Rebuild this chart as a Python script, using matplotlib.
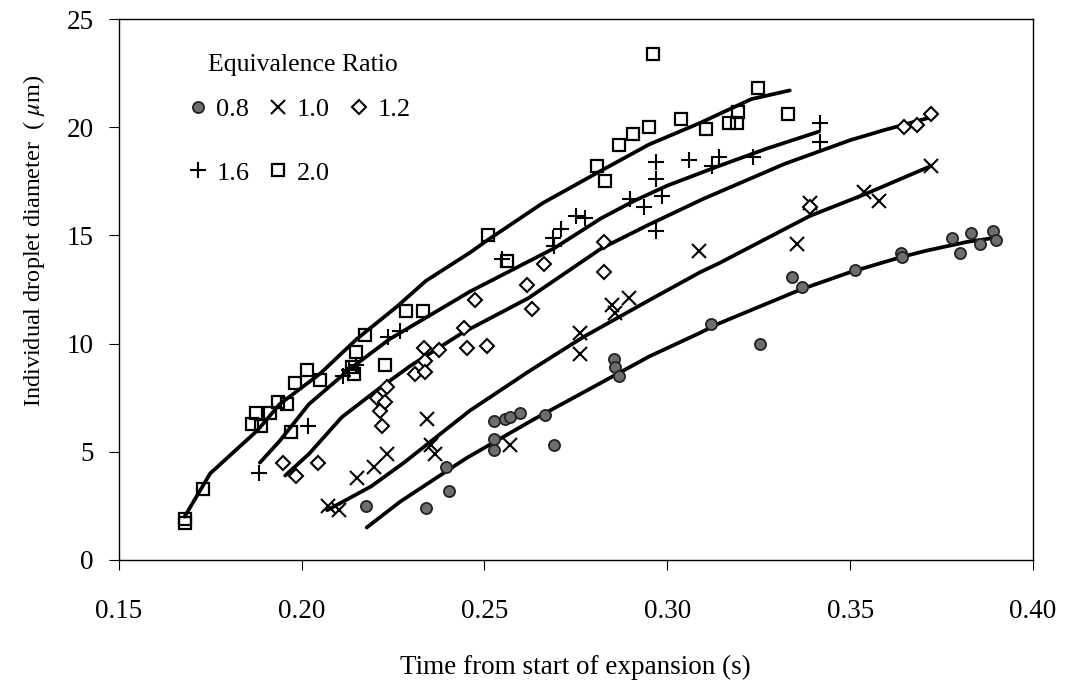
import numpy as np
import matplotlib
matplotlib.use("Agg")
import matplotlib.pyplot as plt

plt.rcParams['font.family'] = ['Liberation Serif', 'DejaVu Serif']
plt.rcParams['mathtext.fontset'] = 'stix'

# ratio 0.8 (filled circles)
t08 = [0.2176, 0.2341, 0.2395, 0.2402, 0.2525, 0.2525, 0.2525, 0.2555, 0.2570, 0.2598,
       0.2665, 0.2690, 0.2853, 0.2858, 0.2867, 0.3120, 0.3253, 0.3342, 0.3369, 0.3513,
       0.3640, 0.3642, 0.3778, 0.3801, 0.3830, 0.3855, 0.3890, 0.3900]
d08 = [2.5, 2.4, 4.3, 3.2, 5.1, 5.6, 6.4, 6.5, 6.6, 6.8,
       6.7, 5.3, 9.3, 8.9, 8.5, 10.9, 10.0, 13.1, 12.6, 13.4,
       14.2, 14.0, 14.9, 14.2, 15.1, 14.6, 15.2, 14.8]
# ratio 1.0 (crosses)
t10 = [0.2073, 0.2101, 0.2151, 0.2197, 0.2233, 0.2343, 0.2355, 0.2366, 0.2570, 0.2762,
       0.2762, 0.2849, 0.2858, 0.2895, 0.3086, 0.3355, 0.3390, 0.3538, 0.3579, 0.3721]
d10 = [2.5, 2.3, 3.8, 4.3, 4.9, 6.5, 5.3, 4.9, 5.3, 10.5,
       9.5, 11.8, 11.4, 12.1, 14.3, 14.6, 16.5, 17.0, 16.6, 18.2]
# ratio 1.2 (diamonds)
t12 = [0.1950, 0.1985, 0.2046, 0.2206, 0.2215, 0.2219, 0.2228, 0.2233, 0.2311, 0.2335,
       0.2338, 0.2338, 0.2377, 0.2443, 0.2452, 0.2475, 0.2507, 0.2616, 0.2630, 0.2662,
       0.2826, 0.2826, 0.3390, 0.3646, 0.3684, 0.3721]
d12 = [4.5, 3.9, 4.5, 7.5, 6.9, 6.2, 7.3, 8.0, 8.6, 9.8,
       9.2, 8.7, 9.7, 10.7, 9.8, 12.0, 9.9, 12.7, 11.6, 13.7,
       14.7, 13.3, 16.3, 20.0, 20.1, 20.6]
# ratio 1.6 (plus)
t16 = [0.1884, 0.2018, 0.2114, 0.2130, 0.2150, 0.2237, 0.2269, 0.2548, 0.2687, 0.2689,
       0.2708, 0.2749, 0.2776, 0.2899, 0.2936, 0.2968, 0.2968, 0.2986, 0.2970, 0.3059,
       0.3123, 0.3141, 0.3235, 0.3418, 0.3418]
d16 = [4.0, 6.2, 8.5, 8.8, 9.0, 10.3, 10.6, 13.9, 14.9, 14.5,
       15.3, 15.9, 15.8, 16.7, 16.3, 18.4, 17.6, 16.8, 15.2, 18.5,
       18.2, 18.6, 18.6, 20.2, 19.3]
# ratio 2.0 (open squares)
t20 = [0.1680, 0.1682, 0.1731, 0.1863, 0.1875, 0.1889, 0.1913, 0.1936, 0.1959, 0.1970,
       0.1982, 0.2014, 0.2049, 0.2137, 0.2143, 0.2149, 0.2174, 0.2228, 0.2286, 0.2333,
       0.2511, 0.2563, 0.2808, 0.2831, 0.2868, 0.2907, 0.2950, 0.2960, 0.3038, 0.3105,
       0.3169, 0.3190, 0.3193, 0.3248, 0.3331]
d20 = [1.7, 1.9, 3.3, 6.3, 6.8, 6.2, 6.8, 7.3, 7.2, 5.9,
       8.2, 8.8, 8.3, 8.9, 8.6, 9.6, 10.4, 9.0, 11.5, 11.5,
       15.0, 13.8, 18.2, 17.5, 19.2, 19.7, 20.0, 23.4, 20.4, 19.9,
       20.2, 20.2, 20.7, 21.8, 20.6]

# trend lines as drawn on the original figure
lt08 = [0.2178, 0.227, 0.245, 0.2635, 0.282, 0.295, 0.309, 0.3137, 0.3365, 0.350, 0.364, 0.371, 0.382, 0.390]
ld08 = [1.5, 2.7, 4.7, 6.5, 8.2, 9.4, 10.5, 10.9, 12.5, 13.3, 14.0, 14.3, 14.7, 14.9]
lt10 = [0.207, 0.219, 0.228, 0.237, 0.246, 0.262, 0.277, 0.295, 0.309, 0.314, 0.339, 0.354, 0.372]
ld10 = [2.3, 3.4, 4.5, 5.7, 6.9, 8.7, 10.3, 12.0, 13.3, 13.7, 15.9, 16.9, 18.2]
lt12 = [0.1955, 0.202, 0.211, 0.221, 0.230, 0.244, 0.262, 0.282, 0.295, 0.310, 0.332, 0.350, 0.360, 0.373]
ld12 = [3.9, 4.9, 6.6, 7.9, 9.0, 10.5, 12.1, 14.4, 15.5, 16.7, 18.3, 19.4, 19.9, 20.5]
lt16 = [0.1886, 0.194, 0.202, 0.213, 0.224, 0.237, 0.246, 0.269, 0.282, 0.291, 0.300, 0.314, 0.327, 0.3415]
ld16 = [4.5, 5.5, 7.2, 8.8, 10.2, 11.5, 12.4, 14.4, 15.8, 16.6, 17.3, 18.2, 19.0, 19.8]
lt20 = [0.168, 0.175, 0.188, 0.194, 0.205, 0.215, 0.226, 0.234, 0.246, 0.251, 0.266, 0.282, 0.295, 0.309, 0.323, 0.3335]
ld20 = [2.0, 4.0, 6.0, 7.2, 8.6, 10.2, 11.7, 12.9, 14.2, 14.8, 16.5, 18.0, 19.2, 20.2, 21.3, 21.7]

fig = plt.figure(figsize=(10.7, 6.86), dpi=100)
ax = fig.add_axes([0.111, 0.1837, 0.8544, 0.7886])

lw = 2.7
for lt, ld in [(lt08, ld08), (lt10, ld10), (lt12, ld12), (lt16, ld16), (lt20, ld20)]:
    ax.plot(lt, ld, color='black', lw=lw, solid_capstyle='round', zorder=2)

h08, = ax.plot(t08, d08, 'o', ms=8, mfc='#6e6e6e', mec='#222222', mew=1.3, ls='none', zorder=3)
h10, = ax.plot(t10, d10, 'x', ms=10, mec='black', mew=1.5, ls='none', zorder=3)
h12, = ax.plot(t12, d12, 'D', ms=7, mfc='white', mec='black', mew=1.5, ls='none', zorder=3)
h16, = ax.plot(t16, d16, '+', ms=12, mec='black', mew=1.5, ls='none', zorder=3)
h20, = ax.plot(t20, d20, 's', ms=9, mfc='none', mec='black', mew=1.6, ls='none', zorder=3)

ax.set_xlim(0.15, 0.40)
ax.set_ylim(0, 25)
ax.set_xticks([0.15, 0.20, 0.25, 0.30, 0.35, 0.40])
ax.set_xticklabels(['0.15', '0.20', '0.25', '0.30', '0.35', '0.40'])
ax.set_yticks([0, 5, 10, 15, 20, 25])
ax.tick_params(axis='x', direction='out', length=7, width=0.8, pad=21, labelsize=19.5)
ax.tick_params(axis='y', direction='out', length=7, width=0.8, pad=11, labelsize=19.5)
for s in ax.spines.values():
    s.set_linewidth(1.0)

ax.set_xlabel('Time from start of expansion (s)', fontsize=19.5, labelpad=22)
ax.set_ylabel(r'Individual droplet diameter  ( $\mu$m)', fontsize=17.5)
ax.yaxis.set_label_coords(-0.079, 0.59)

# legend laid out row by row: 0.8 1.0 1.2 / 1.6 2.0
ax.text(0.201, 0.915, 'Equivalence Ratio', transform=ax.transAxes,
        ha='center', va='center', fontsize=18.5)
handles = [h08, h16, h10, h20, h12]
labels = ['0.8', '1.6', '1.0', '2.0', '1.2']
leg = ax.legend(handles, labels, ncol=3, frameon=False,
                loc='center left', bbox_to_anchor=(0.075, 0.774), fontsize=19,
                handlelength=0.8, handletextpad=0.3,
                columnspacing=0.7, labelspacing=1.5, borderpad=0.0, borderaxespad=0.0)

fig.savefig('out.png', dpi=100)
